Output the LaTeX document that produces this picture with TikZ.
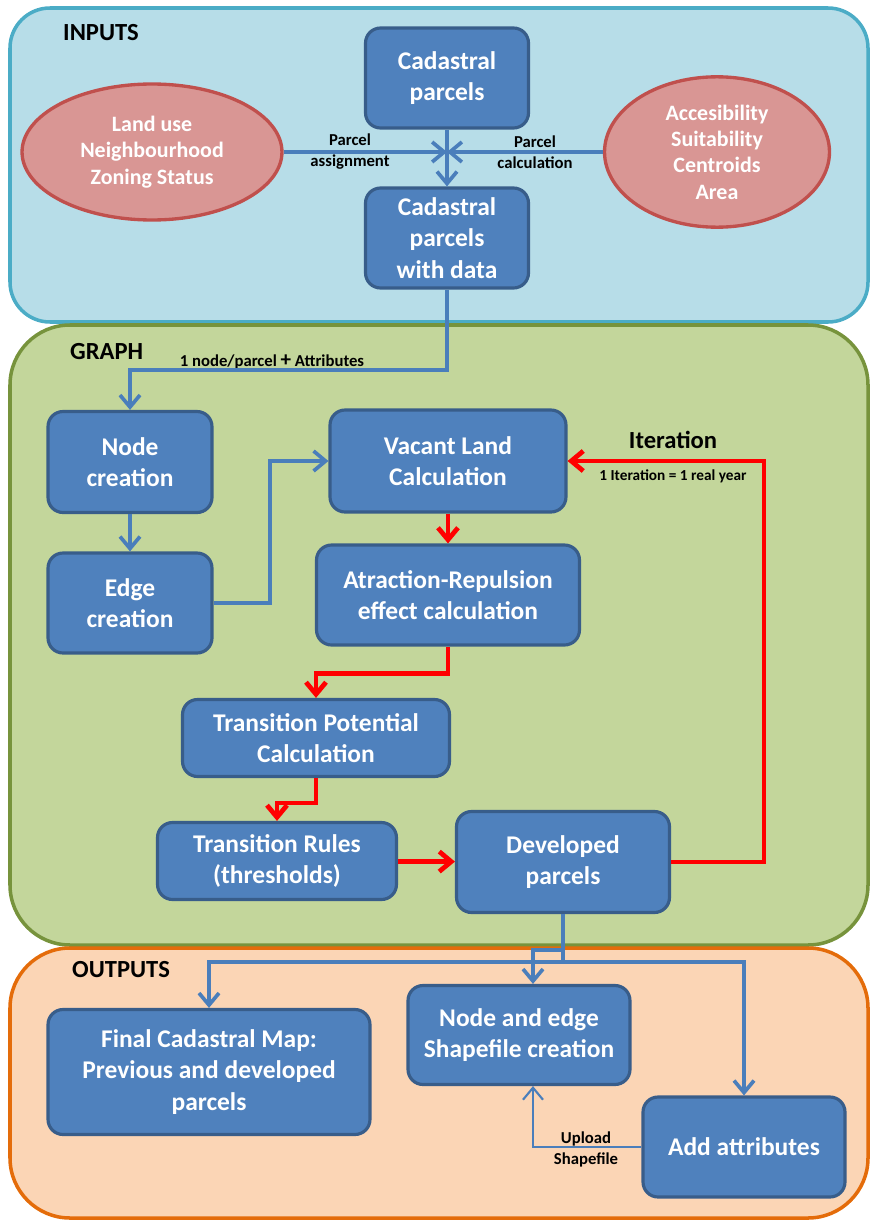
\documentclass[tikz,border=0pt]{standalone}
\usepackage{fontspec}
\setmainfont{Carlito}
\usetikzlibrary{arrows.meta, positioning, shapes.geometric}
\definecolor{boxblue}{HTML}{4F81BD}
\definecolor{boxedge}{HTML}{385D8A}
\definecolor{ovalfill}{HTML}{D99694}
\definecolor{ovaledge}{HTML}{C0504D}
\definecolor{inbg}{HTML}{B7DDE8}
\definecolor{inedge}{HTML}{4BACC6}
\definecolor{graphbg}{HTML}{C3D69B}
\definecolor{graphedge}{HTML}{77933C}
\definecolor{outbg}{HTML}{FBD5B5}
\definecolor{outedge}{HTML}{E46C0A}
\definecolor{flowblue}{HTML}{4A7EBB}

\begin{document}
\begin{tikzpicture}[x=0.02cm, y=-0.02cm,
    box/.style={draw=boxedge, line width=1.8pt, fill=boxblue, rounded corners=0.3cm, text=white, align=center, font=\fontsize{14.5}{18}\selectfont\bfseries},
    oval/.style={draw=ovaledge, line width=1.9pt, fill=ovalfill, ellipse, text=white, align=center, font=\fontsize{12.5}{15}\selectfont\bfseries},
    paneltitle/.style={font=\fontsize{14}{17}\selectfont\bfseries, anchor=west},
    lbl/.style={align=center, font=\fontsize{9.5}{12}\selectfont\bfseries},
    bline/.style={draw=flowblue, line width=2.1pt},
    rline/.style={draw=red, line width=2.7pt},
    tip/.style={-{Straight Barb[length=0.24cm, width=0.4cm]}}]
    \useasboundingbox (0,0) rectangle (872,1220);
    % panels
    \draw[inedge, fill=inbg, line width=2pt, rounded corners=0.8cm] (10,8) rectangle (868,322);
    \draw[graphedge, fill=graphbg, line width=2pt, rounded corners=1.2cm] (10,325) rectangle (868,945);
    \draw[outedge, fill=outbg, line width=2pt, rounded corners=1.2cm] (10,948) rectangle (868,1218);
    \node[paneltitle] (tin) at (57,33) {INPUTS};
    \node[paneltitle] (tgr) at (64,352) {GRAPH};
    \node[paneltitle] (tout) at (66,970) {OUTPUTS};

    % inputs
    \node[box, minimum width=3.26cm, minimum height=2cm] (cp) at (447,78) {Cadastral\\parcels};
    \node[box, minimum width=3.26cm, minimum height=2cm] (cpd) at (447,238) {Cadastral\\parcels\\with data};
    \node[oval, minimum width=5.2cm, minimum height=2.72cm] (use) at (152,152) {Land use\\Neighbourhood\\Zoning Status};
    \node[oval, minimum width=4.5cm, minimum height=2.72cm] (acc) at (717,152) {Accesibility\\Suitability\\Centroids\\Area};
    \coordinate (mid) at (447,152);
    \node[lbl] (asg) at (350,152) {Parcel\\assignment};
    \node[lbl] (calc) at (535,152) {Parcel\\calculation};
    \draw[bline, tip] (use.east) -- (mid);
    \draw[bline, tip] (acc.west) -- (mid);
    \draw[bline, tip] (cp) -- (cpd);

    % graph
    \node[box, minimum width=3.28cm, minimum height=2.02cm] (nc) at (130,462) {Node\\creation};
    \node[box, minimum width=3.28cm, minimum height=2cm] (ec) at (130,603) {Edge\\creation};
    \node[box, minimum width=4.72cm, minimum height=2.04cm] (vl) at (448,461) {Vacant Land\\Calculation};
    \node[box, minimum width=5.26cm, minimum height=2cm] (ar) at (448,595) {Atraction-Repulsion\\effect calculation};
    \node[box, minimum width=5.34cm, minimum height=1.54cm] (tp) at (316,738) {Transition Potential\\Calculation};
    \node[box, minimum width=4.78cm, minimum height=1.54cm] (tr) at (277,861) {Transition Rules\\(thresholds)};
    \node[box, minimum width=4.26cm, minimum height=2.02cm] (dv) at (563,862) {Developed\\parcels};
    \node[lbl] (attr) at (272,362) {1 node/parcel {\large+} Attributes};
    \node[font=\fontsize{14}{17}\selectfont\bfseries] (it) at (673,440) {Iteration};
    \node[font=\fontsize{8.7}{10}\selectfont\bfseries] (itnote) at (673,476) {1 Iteration = 1 real year};
    \draw[bline, tip] (cpd.south) -- (cpd.south |- 0,370) -| (nc.north);
    \draw[bline, tip] (nc) -- (ec);
    \draw[bline, tip] (ec.east) -- (270,603) |- (vl.west);
    \draw[rline, tip] (vl) -- (ar);
    \draw[rline, tip] (ar.south) -- ++(0,27) -| (tp.north);
    \draw[rline, tip] (tp.south) -- ++(0,25) -| (tr.north);
    \draw[rline, tip] (tr) -- (dv);
    \draw[rline, tip] (dv.east) -- (764,862) |- (vl.east);

    % outputs
    \node[box, minimum width=6.44cm, minimum height=2.5cm] (fm) at (209,1072) {Final Cadastral Map:\\Previous and developed\\parcels};
    \node[box, minimum width=4.44cm, minimum height=1.98cm] (sh) at (519,1035) {Node and edge\\Shapefile creation};
    \node[box, minimum width=4.04cm, minimum height=2cm] (aa) at (744,1147) {Add attributes};
    \node[lbl] (upl) at (586,1149) {Upload\\Shapefile};
    \draw[bline, tip] (dv.south) -- (563,962) -| (fm.north);
    \draw[bline, tip] (563,962) -| (aa.north);
    \draw[bline, tip] (563,950) -| (sh.north -| 533,0);
    \draw[draw=flowblue, line width=1.2pt, tip] (aa.west) -| (sh.south -| 533,0);
\end{tikzpicture}
\end{document}
